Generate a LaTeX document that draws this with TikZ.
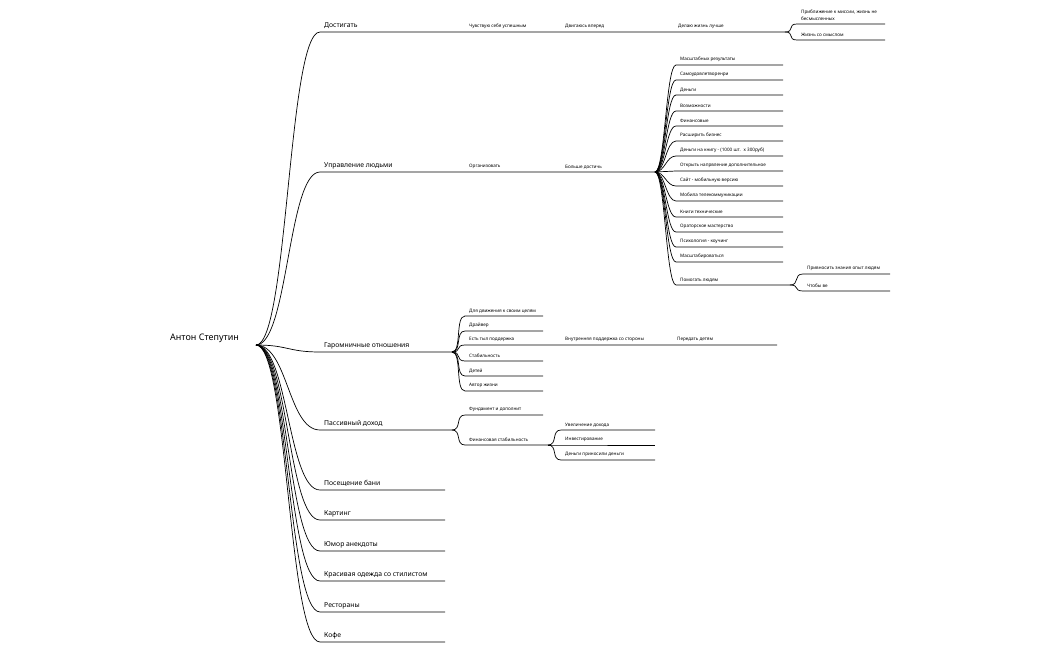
\documentclass[tikz,border=0pt]{standalone}
\usepackage{fontspec}
\setmainfont{Noto Sans}
\usetikzlibrary{calc}
\tikzset{
 ln/.style={line width=0.7pt,black},
 lbl/.style={anchor=south west,inner sep=0pt,font=\fontsize{4.6}{5.5}\selectfont},
 lbl1/.style={anchor=south west,inner sep=0pt,font=\fontsize{6.8}{8}\selectfont},
}
\newcommand\cl{12}
% #1 name, #2 hub, #3 xs, #4 xe, #5 y, #6 text, #7 style
\newcommand\br[7][lbl]{%
 \coordinate (#2s) at (#4,#6); \coordinate (#2e) at (#5,#6);
 \draw[ln] (#3) .. controls ($(#3)+(\cl,0)$) and ($(#2s)+(-\cl,0)$) .. (#2s) -- (#2e);
 \node[#1] (#2) at ($(#2s)+(4,-3)$) {#7};}
\begin{document}
\begin{tikzpicture}[x=1pt,y=-1pt]
\useasboundingbox (0,0) rectangle (1050,650);
\node[anchor=west,inner sep=0pt,font=\fontsize{9}{10}\selectfont\bfseries] (root) at (170,338) {Антон Степутин};
\coordinate (r) at (256,345);
% level 1
\renewcommand\cl{32}
\br[lbl1]{a}{r}{320}{785}{32}{Достигать}
\br[lbl1]{b}{r}{320}{655}{172}{Управление людьми}
\br[lbl1]{c}{r}{320}{452}{352}{Гаромничные отношения}
\br[lbl1]{d}{r}{320}{452}{430}{Пассивный доход}
\br[lbl1]{e}{r}{320}{445}{490}{Посещение бани}
\br[lbl1]{f}{r}{320}{445}{520}{Картинг}
\br[lbl1]{g}{r}{320}{445}{551}{Юмор анекдоты}
\br[lbl1]{h}{r}{320}{445}{581}{Красивая одежда со стилистом}
\br[lbl1]{i}{r}{320}{445}{612}{Рестораны}
\br[lbl1]{j}{r}{320}{445}{642}{Кофе}
% level labels on straight lines
\node[lbl] (a1) at (469,29) {Чувствую себя успешным};
\node[lbl] (a2) at (565,29) {Двигаюсь вперед};
\node[lbl] (a3) at (678,29) {Делаю жизнь лучше};
\node[lbl] (b1) at (469,169) {Организовать};
\node[lbl] (b2) at (565,169) {Больше достичь};
\renewcommand\cl{10}
\coordinate (ah) at (785,32);
\br{a4}{ah}{797}{885}{24}{\shortstack[l]{Приближение к миссии, жизнь не\\бесмысленных}}
\br{a5}{ah}{797}{885}{40}{Жизнь со смыслом}
\coordinate (bh) at (655,172);
\br{b3}{bh}{676}{783}{65}{Масштабных результаты}
\br{b4}{bh}{676}{783}{80}{Самоудовлетворенри}
\br{b5}{bh}{676}{783}{95}{Деньги}
\br{b6}{bh}{676}{783}{111}{Возможности}
\br{b7}{bh}{676}{783}{126}{Финансовые}
\br{b8}{bh}{676}{783}{141}{Расширить бизнес}
\br{b9}{bh}{676}{783}{156}{Деньги на книгу - (1000 шт. \ х 300руб)}
\br{b10}{bh}{676}{783}{171}{Открыть напрвление дополнительное}
\br{b11}{bh}{676}{783}{186}{Сайт - мобильную версию}
\br{b12}{bh}{676}{783}{201}{Мобила телекоммуникации}
\br{b13}{bh}{676}{783}{217}{Книги технические}
\br{b14}{bh}{676}{783}{232}{Ораторское мастерство}
\br{b15}{bh}{676}{783}{247}{Психология - коучинг}
\br{b16}{bh}{676}{783}{262}{Масштабироваться}
\br{b17}{bh}{676}{790}{285}{Помогать людям}
\br{b18}{b17e}{803}{890}{274}{Привносить знания опыт людям}
\br{b19}{b17e}{803}{890}{291}{Чтобы ве}
\coordinate (ch) at (452,352);
\br{c1}{ch}{465}{543}{316}{Для движения к своим целям}
\br{c2}{ch}{465}{543}{331}{Драйвер}
\br{c3}{ch}{465}{777}{345}{Есть тыл поддержка}
\br{c4}{ch}{465}{543}{361}{Стабильность}
\br{c5}{ch}{465}{543}{376}{Детей}
\br{c6}{ch}{465}{543}{391}{Автор жизни}
\node[lbl] (c7) at (565,342) {Внутренняя поддержка со стороны};
\node[lbl] (c8) at (677,342) {Передать детям};
\coordinate (dh) at (452,430);
\br{d1}{dh}{465}{543}{415}{Фундамент и дополнит}
\br{d2}{dh}{465}{548}{445}{Финансовая стабильность}
\br{d3}{d2e}{561}{655}{430}{Увеличение дохода}
\br{d4}{d2e}{561}{655}{445}{Инвестирование}
\br{d5}{d2e}{561}{655}{460}{Деньги приносили деньги}
\end{tikzpicture}
\end{document}
